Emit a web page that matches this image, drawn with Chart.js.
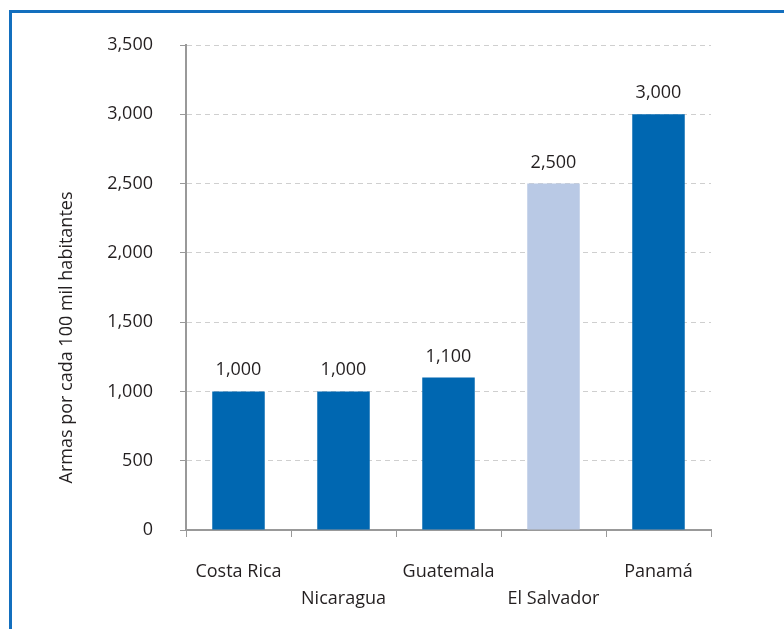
<!DOCTYPE html>
<html lang="es">
<head>
<meta charset="UTF-8">
<title>Armas por cada 100 mil habitantes</title>
<script src="https://cdn.jsdelivr.net/npm/chart.js"></script>
<style>
    body { margin: 0; background: #fff; }
    .wrap { position: relative; width: 784px; height: 629px; }
    .frame-top { position: absolute; left: 9px; top: 10px; width: 775px; height: 3px; background: #136fbe; }
    .frame-left { position: absolute; left: 9px; top: 10px; width: 3px; height: 619px; background: #136fbe; }
    canvas { position: absolute; left: 0; top: 0; }
</style>
</head>
<body>
<div class="wrap">
    <canvas id="chart" width="784" height="629"></canvas>
    <div class="frame-top"></div>
    <div class="frame-left"></div>
</div>
<script>
// chart data
const countries = ['Costa Rica', 'Nicaragua', 'Guatemala', 'El Salvador', 'Panamá'];
const weapons = [1000, 1000, 1100, 2500, 3000];
const barColors = ['#0067b1', '#0067b1', '#0067b1', '#b9c9e5', '#0067b1'];
const yTicks = [0, 500, 1000, 1500, 2000, 2500, 3000, 3500];
const yTitle = 'Armas por cada 100 mil habitantes';

const FONT = '"Open Sans", "Noto Sans", sans-serif';
const TEXT = '#231f20';
const SIZE = 18;

// staggered labels: every second one goes on the second line
const labels = countries.map((c, i) => i % 2 ? ['', c] : [c]);

// value labels over bars + rotated axis title
const extras = {
    id: 'extras',
    afterDatasetsDraw(chart) {
        const ctx = chart.ctx;
        const meta = chart.getDatasetMeta(0);
        ctx.save();
        ctx.font = SIZE + 'px ' + FONT;
        ctx.fillStyle = TEXT;
        ctx.textAlign = 'center';
        ctx.textBaseline = 'alphabetic';
        meta.data.forEach((bar, i) => {
            ctx.fillText(weapons[i].toLocaleString('en-US'), bar.x, bar.y - 16);
        });
        // y axis title
        const a = chart.chartArea;
        ctx.translate(67, (a.top + a.bottom) / 2 + 50);
        ctx.rotate(-Math.PI / 2);
        ctx.textBaseline = 'middle';
        ctx.fillText(yTitle, 0, 0);
        ctx.restore();
    }
};

new Chart(document.getElementById('chart'), {
    type: 'bar',
    data: {
        labels: labels,
        datasets: [{
            data: weapons,
            backgroundColor: barColors,
            borderWidth: 0,
            categoryPercentage: 1,
            barPercentage: 0.5
        }]
    },
    options: {
        responsive: false,
        animation: false,
        layout: { padding: { left: 50, right: 73, top: 45, bottom: 0 } },
        plugins: { legend: { display: false }, tooltip: { enabled: false } },
        scales: {
            x: {
                offset: true,
                grid: { drawOnChartArea: false, drawTicks: true, tickLength: 7, tickColor: '#999', color: '#999' },
                border: { color: '#999', width: 2 },
                ticks: { color: TEXT, font: { family: FONT, size: SIZE, lineHeight: 1.5 }, padding: 21, maxRotation: 0, autoSkip: false },
                afterFit(s) { s.height = 99; }
            },
            y: {
                min: 0,
                max: 3500,
                afterBuildTicks(s) { s.ticks = yTicks.map(v => ({ value: v })); },
                grid: { color: '#cfcfcf', tickColor: '#999', tickLength: 6, lineWidth: 1 },
                border: { color: '#999', width: 2, dash: [5, 4] },
                ticks: {
                    color: TEXT,
                    font: { family: FONT, size: SIZE },
                    padding: 27,
                    callback: v => v.toLocaleString('en-US')
                },
                afterFit(s) { s.width = 136; }
            }
        }
    },
    plugins: [extras]
});
</script>
</body>
</html>
